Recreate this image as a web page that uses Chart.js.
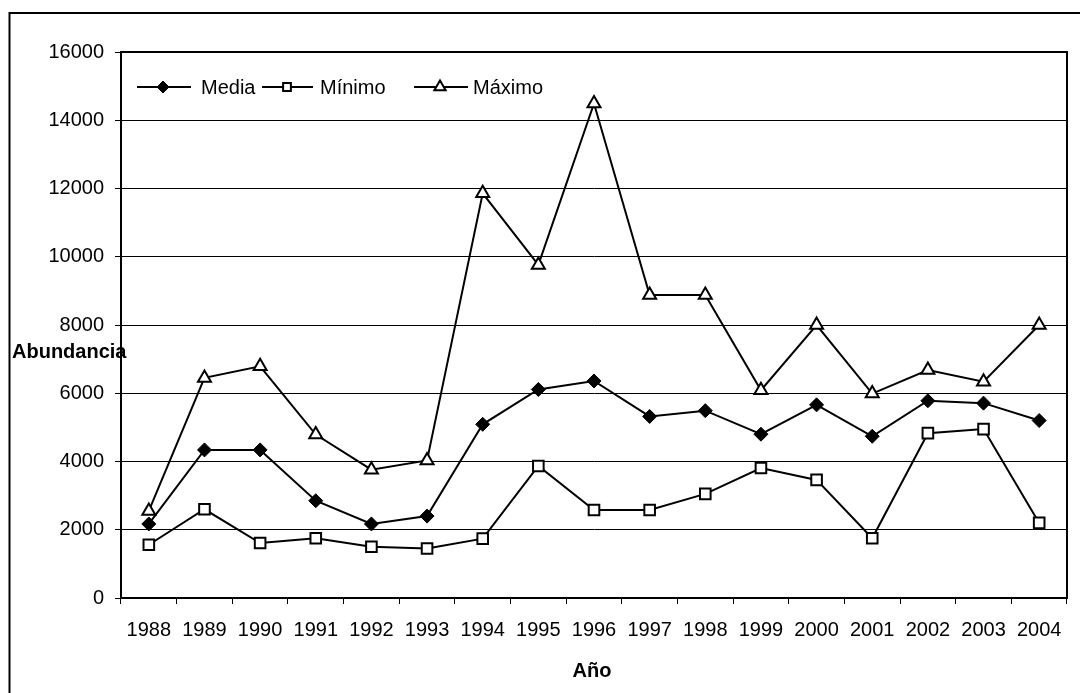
<!DOCTYPE html>
<html><head><meta charset="utf-8">
<script src="https://cdn.jsdelivr.net/npm/chart.js@4/dist/chart.umd.min.js"></script>
<style>html,body{margin:0;padding:0;background:#fff}#wrap{width:1080px;height:693px;position:relative}</style>
</head><body><div id="wrap"><canvas id="c" width="1080" height="693"></canvas></div>
<script>
const years = ['1988','1989','1990','1991','1992','1993','1994','1995','1996','1997','1998','1999','2000','2001','2002','2003','2004'];
const media  = [2170,4340,4340,2850,2170,2400,5090,6110,6360,5320,5490,4800,5660,4740,5780,5710,5200];
const minimo = [1560,2600,1610,1750,1500,1450,1740,3870,2580,2580,3050,3810,3460,1750,4830,4950,2200];
const maximo = [2550,6450,6790,4790,3760,4030,11860,9760,14490,8880,8880,6090,8000,5990,6680,6340,8000];
const seriesNames = ['Media','Mínimo','Máximo'];
const yMin = 0, yMax = 16000, yStep = 2000;
const xTitle = 'Año';
const yTitle = 'Abundancia';

const FONT = '"Liberation Sans", Arial, sans-serif';

const decor = {
  id: 'decor',
  afterDraw(chart) {
    const ctx = chart.ctx, a = chart.chartArea;
    ctx.save();
    // outer border
    ctx.strokeStyle = '#000'; ctx.lineWidth = 2;
    ctx.beginPath();
    ctx.moveTo(9.5, 700); ctx.lineTo(9.5, 13); ctx.lineTo(1090, 13);
    ctx.stroke();
    // plot border right/top
    ctx.lineWidth = 2;
    ctx.beginPath();
    ctx.moveTo(a.left, a.top); ctx.lineTo(a.right, a.top); ctx.lineTo(a.right, a.bottom);
    ctx.stroke();
    // titles
    ctx.fillStyle = '#000';
    ctx.font = 'bold 20px ' + FONT;
    ctx.textBaseline = 'alphabetic';
    ctx.textAlign = 'left';
    ctx.fillText(yTitle, 12, 358);
    ctx.textAlign = 'center';
    ctx.fillText(xTitle, 592, 677);
    // legend
    const items = [
      {ds: 0, x1: 137, x2: 191, mx: 163, tx: 201, r: 6},
      {ds: 1, x1: 262, x2: 313, mx: 287, tx: 320, r: 5.5},
      {ds: 2, x1: 414, x2: 468, mx: 440, tx: 473, r: 6.5},
    ];
    const ly = 87;
    ctx.font = '20px ' + FONT;
    ctx.textAlign = 'left';
    ctx.textBaseline = 'middle';
    items.forEach(it => {
      const ds = chart.data.datasets[it.ds];
      ctx.strokeStyle = ds.borderColor; ctx.lineWidth = ds.borderWidth;
      ctx.beginPath(); ctx.moveTo(it.x1, ly); ctx.lineTo(it.x2, ly); ctx.stroke();
      ctx.fillStyle = ds.pointBackgroundColor; ctx.strokeStyle = ds.pointBorderColor;
      ctx.lineWidth = ds.pointBorderWidth;
      Chart.helpers.drawPoint(ctx, {pointStyle: ds.pointStyle, radius: it.r, rotation: 0, borderWidth: ds.pointBorderWidth}, it.mx, ly);
      ctx.fillStyle = '#000';
      ctx.fillText(ds.label, it.tx, ly + 1);
    });
    ctx.restore();
  }
};

new Chart(document.getElementById('c'), {
  type: 'line',
  data: {
    labels: years,
    datasets: [
      {label: seriesNames[0], data: media, borderColor: '#000', borderWidth: 2,
       pointStyle: 'rectRot', pointRadius: 7, pointBackgroundColor: '#000', pointBorderColor: '#000', pointBorderWidth: 1},
      {label: seriesNames[1], data: minimo, borderColor: '#000', borderWidth: 2,
       pointStyle: 'rect', pointRadius: 7.5, pointBackgroundColor: '#fff', pointBorderColor: '#000', pointBorderWidth: 2},
      {label: seriesNames[2], data: maximo, borderColor: '#000', borderWidth: 2,
       pointStyle: 'triangle', pointRadius: 7.5, pointBackgroundColor: '#fff', pointBorderColor: '#000', pointBorderWidth: 2}
    ]
  },
  options: {
    responsive: false, animation: false, devicePixelRatio: 1,
    layout: {padding: {left: 0, top: 52, right: 13, bottom: 0}},
    plugins: {legend: {display: false}, tooltip: {enabled: false}},
    elements: {line: {tension: 0}},
    scales: {
      x: {
        type: 'category', offset: true,
        grid: {offset: true, drawOnChartArea: false, drawTicks: true, tickLength: 6, color: '#000', lineWidth: 1},
        border: {display: true, color: '#000', width: 2},
        ticks: {font: {family: FONT, size: 20}, color: '#000', padding: 14, maxRotation: 0, autoSkip: false},
        afterFit(s) { s.height = 95; }
      },
      y: {
        min: yMin, max: yMax,
        ticks: {stepSize: yStep, font: {family: FONT, size: 20}, color: '#000', padding: 11,
                callback: v => String(v)},
        grid: {color: '#000', lineWidth: 1, drawTicks: true, tickLength: 6},
        border: {display: true, color: '#000', width: 2},
        afterFit(s) { s.width = 121; }
      }
    }
  },
  plugins: [decor]
});
</script></body></html>
